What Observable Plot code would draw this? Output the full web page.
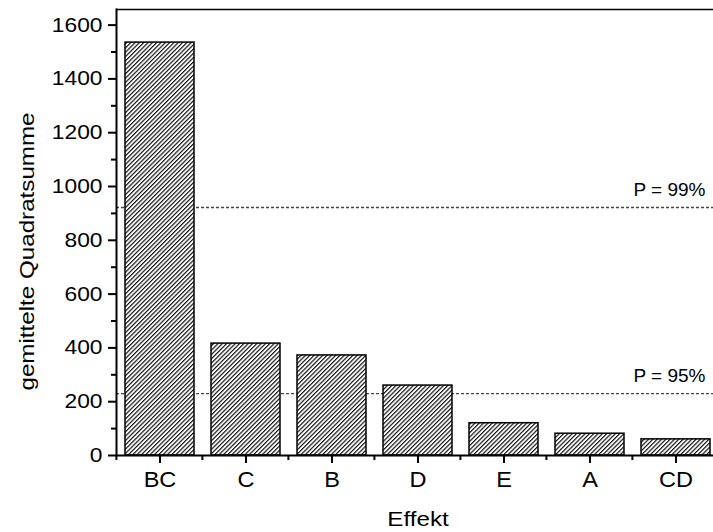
<!DOCTYPE html>
<html><head><meta charset="utf-8">
<script src="https://cdn.jsdelivr.net/npm/d3@7"></script>
<script src="https://cdn.jsdelivr.net/npm/@observablehq/plot@0.6"></script>
<style>body{margin:0;background:#fff}</style>
</head><body><div id="chart"></div>
<script>
const categories = ["BC", "C", "B", "D", "E", "A", "CD"];
const values = [1535, 416, 372, 260, 120, 81, 60];
const thresholdValues = [922, 230];
const thresholdLabels = ["P = 99%", "P = 95%"];
const yMajorTicks = [0, 200, 400, 600, 800, 1000, 1200, 1400, 1600];
const yMinorTicks = [100, 300, 500, 700, 900, 1100, 1300, 1500];
const yMax = 1658;
const xLabel = "Effekt";
const yLabel = "gemittelte Quadratsumme";

const data = categories.map((c, i) => ({effekt: c, wert: values[i]}));
const thresholds = thresholdValues.map((v, i) => ({wert: v, label: thresholdLabels[i]}));

const font = "'Liberation Sans', Arial, Helvetica, sans-serif";

// minor ticks on the x axis, at the band boundaries
const minorX = (index, scales, vals, dims) => {
  const x = scales.x;
  const xs = categories.map(c => x(c));
  const step = xs[1] - xs[0];
  const bounds = xs.map(v => v - step * 0.1).concat([xs[xs.length - 1] + step * 0.9]);
  const y0 = dims.height - dims.marginBottom;
  const g = d3.create("svg:g").attr("stroke", "black").attr("stroke-width", 2);
  for (const b of bounds) g.append("line").attr("x1", b).attr("x2", b).attr("y1", y0).attr("y2", y0 + 5);
  return g.node();
};

const svg = Plot.plot({
  width: 713,
  height: 532,
  marginLeft: 116,
  marginRight: 0,
  marginTop: 9,
  marginBottom: 77,
  style: {fontFamily: font, background: "white", color: "black"},
  x: {domain: categories, range: [116, 718], paddingInner: 0.2, paddingOuter: 0.1},
  y: {domain: [0, yMax]},
  marks: [
    Plot.ruleY(thresholds, {y: "wert", stroke: "#444", strokeWidth: 1.3, strokeDasharray: "3,2"}),
    Plot.text(thresholds, {y: "wert", text: "label", frameAnchor: "right", textAnchor: "end", lineAnchor: "middle", dx: -8, dy: -18, fontSize: 19, fill: "black"}),
    Plot.barY(data, {x: "effekt", y: "wert", fill: "url(#hatch)", stroke: "black", strokeWidth: 1.5}),
    Plot.ruleY([0], {strokeWidth: 2}),
    Plot.frame({anchor: "left", strokeWidth: 2}),
    Plot.frame({anchor: "top", strokeWidth: 1.5}),
    Plot.axisY(yMajorTicks, {tickSize: 8, tickPadding: 6, fontSize: 20, strokeWidth: 2, label: null, tickFormat: d => String(d)}),
    Plot.axisY(yMinorTicks, {tickSize: 5, strokeWidth: 2, tickFormat: () => "", label: null}),
    Plot.axisX({tickSize: 8, tickPadding: 8, fontSize: 22, strokeWidth: 2, label: null}),
    minorX,
    Plot.text([xLabel], {text: d => d, frameAnchor: "bottom", textAnchor: "middle", lineAnchor: "middle", dx: 3, dy: 64, fontSize: 20.5}),
    Plot.text([yLabel], {text: d => d, frameAnchor: "left", textAnchor: "middle", lineAnchor: "middle", dx: -89, dy: 19, rotate: -90, fontSize: 20.5})
  ]
});

// hatch pattern
d3.select(svg).insert("defs", ":first-child").html(
  '<pattern id="hatch" patternUnits="userSpaceOnUse" width="3.05" height="10" patternTransform="rotate(45)">' +
  '<rect width="3.05" height="10" fill="white"/>' +
  '<line x1="0.6" y1="0" x2="0.6" y2="10" stroke="black" stroke-width="1.1"/></pattern>'
);

// the reference font is horizontally wider: stretch text along its reading direction
const stretchBySize = {"20": 1.14, "22": 1.07, "20.5": 1.18};
d3.select(svg).selectAll("text").each(function () {
  let el = this, fs = null;
  while (el && el !== svg) {
    if (el.getAttribute && el.getAttribute("font-size")) { fs = el.getAttribute("font-size"); break; }
    el = el.parentNode;
  }
  const s = stretchBySize[fs];
  if (s) {
    const t = this.getAttribute("transform") || "";
    this.setAttribute("transform", (t + " scale(" + s + ",1)").trim());
  }
});

document.getElementById("chart").appendChild(svg);
</script>
</body></html>
